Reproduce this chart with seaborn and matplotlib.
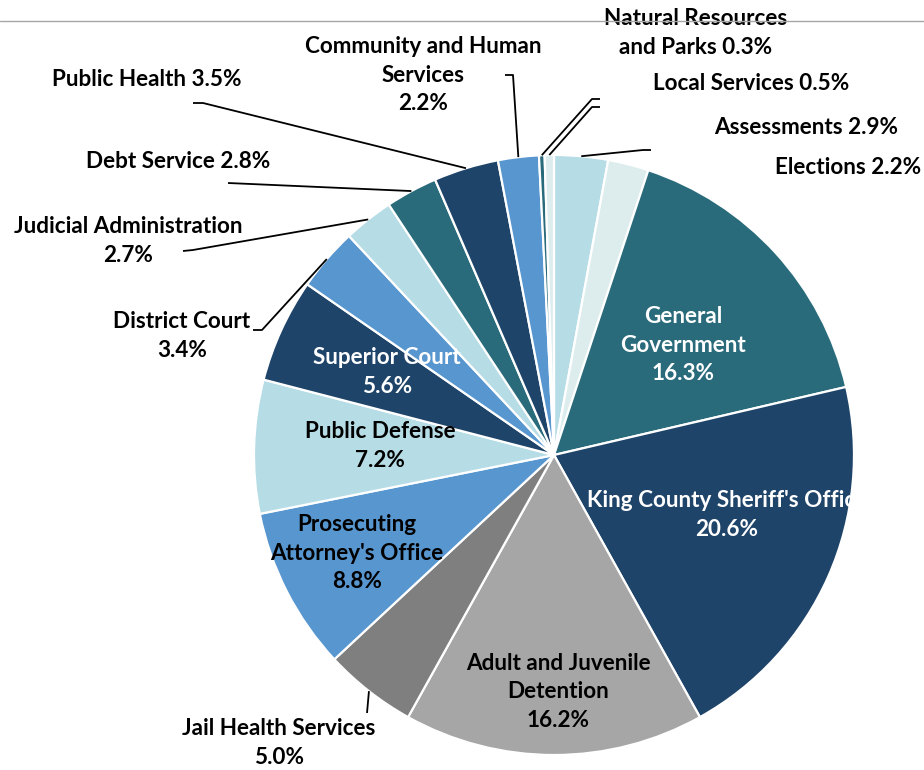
import matplotlib
matplotlib.use("Agg")
import matplotlib.pyplot as plt
import seaborn as sns
import numpy as np
from matplotlib.transforms import Bbox, TransformedBbox

sns.set_theme(style="white")
plt.rcParams['font.family'] = ['Lato', 'DejaVu Sans']

# ---- data (clockwise from 12 o'clock) ----
departments = [
    "Assessments", "Elections", "General\nGovernment", "King County Sheriff's Office",
    "Adult and Juvenile\nDetention", "Jail Health Services", "Prosecuting\nAttorney's Office",
    "Public Defense", "Superior Court", "District Court", "Judicial Administration",
    "Debt Service", "Public Health", "Community and Human\nServices",
    "Natural Resources\nand Parks", "Local Services",
]
shares = [2.9, 2.2, 16.3, 20.6, 16.2, 5.0, 8.8, 7.2, 5.6, 3.4, 2.7, 2.8, 3.5, 2.2, 0.3, 0.5]
label_texts = [
    "Assessments 2.9%", "Elections 2.2%", "General\nGovernment\n16.3%",
    "King County Sheriff's Office\n20.6%", "Adult and Juvenile\nDetention\n16.2%",
    "Jail Health Services\n5.0%", "Prosecuting\nAttorney's Office\n8.8%",
    "Public Defense\n7.2%", "Superior Court\n5.6%", "District Court\n3.4%",
    "Judicial Administration\n2.7%", "Debt Service 2.8%", "Public Health 3.5%",
    "Community and Human\nServices\n2.2%", "Natural Resources\nand Parks 0.3%",
    "Local Services 0.5%",
]

# ---- styles / layout ----
TEAL, NAVY, MID, LIGHT, PALE = "#296B7B", "#1F4469", "#5896CF", "#B6DCE6", "#DDEDEE"
GRAY, DGRAY = "#A6A6A6", "#7F7F7F"
colors = [LIGHT, PALE, TEAL, NAVY, GRAY, DGRAY, MID, LIGHT, NAVY, MID, LIGHT,
          TEAL, NAVY, MID, TEAL, PALE]
W, H = 924, 770
CX, CY, R = 554, 455, 300          # pie centre / radius in pixels (y down)
# label centre (pixel x, y down), text colour, leader-line elbow points (pixel)
layout = {
    0: dict(xy=(806, 128), c="black", leader=[(643, 150), (651, 150)]),
    1: dict(xy=(848, 168), c="black", leader=None),
    2: dict(xy=(683, 345), c="white", leader=None),
    3: dict(xy=(727, 515), c="white", leader=None),
    4: dict(xy=(558, 692), c="black", leader=None),
    5: dict(xy=(279, 743), c="black", leader=[(367, 713)]),
    6: dict(xy=(357, 553), c="black", leader=None),
    7: dict(xy=(380, 446), c="black", leader=None),
    8: dict(xy=(387, 372), c="white", leader=None),
    9: dict(xy=(182, 336), c="black", leader=[(262, 330), (253, 330)]),
    10: dict(xy=(128, 241), c="black", leader=[(193, 250), (183, 251)]),
    11: dict(xy=(178, 161), c="black", leader=[(228, 183)]),
    12: dict(xy=(147, 80), c="black", leader=[(203, 103), (193, 103)]),
    13: dict(xy=(423, 75), c="black", leader=[(513, 75), (505, 75)]),
    14: dict(xy=(696, 33), c="black", leader=[(592, 99), (600, 99)]),
    15: dict(xy=(751, 83), c="black", leader=[(592, 107), (600, 107)]),
}
FS = 16.2

fig = plt.figure(figsize=(W / 100, H / 100), dpi=100)
ax = fig.add_axes([0, 0, 1, 1])
wedges, _ = ax.pie(shares, colors=colors, startangle=90, counterclock=False,
                   center=(CX, H - CY), radius=R,
                   wedgeprops=dict(edgecolor="white", linewidth=1.6))
ax.set_xlim(0, W)
ax.set_ylim(0, H)
ax.set_aspect("equal")
ax.axis("off")

# top rule
fig.add_artist(plt.Line2D([0, 1], [1 - 21 / H, 1 - 21 / H], color="#A6A6A6", lw=1.0,
                          transform=fig.transFigure))

clip = TransformedBbox(Bbox([[0, 0], [850 / W, 1]]), fig.transFigure)
for i, (w, txt) in enumerate(zip(wedges, label_texts)):
    L = layout[i]
    x, y = L["xy"]
    t = ax.text(x, H - y, txt, ha="center", va="center", fontsize=FS,
                fontweight="bold", color=L["c"], linespacing=1.45)
    if i == 3:
        t.set_clip_box(clip)
        t.set_clip_on(True)
    if L["leader"]:
        mid = np.deg2rad((w.theta1 + w.theta2) / 2)
        sx = CX + R * 1.0 * np.cos(mid)
        sy = (H - CY) + R * 1.0 * np.sin(mid)
        pts = [(sx, sy)] + [(px, H - py) for px, py in L["leader"]]
        xs, ys = zip(*pts)
        ax.plot(xs, ys, color="black", lw=1.3, solid_capstyle="butt")

fig.savefig("out.png", dpi=100)
